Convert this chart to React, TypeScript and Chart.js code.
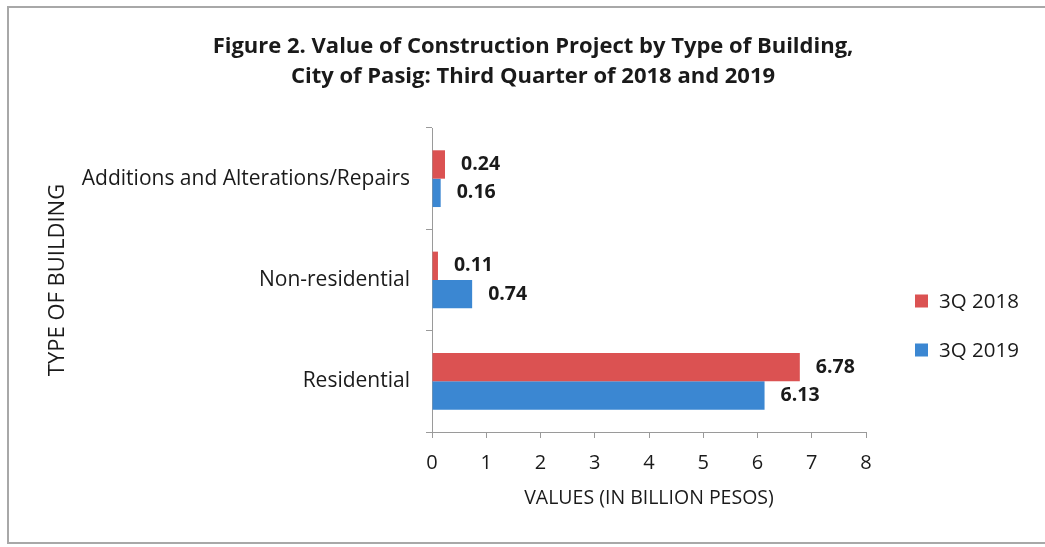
import React, { useEffect, useRef } from "react";
import { Chart, registerables } from "chart.js";

Chart.register(...registerables);

const categories = ["Additions and Alterations/Repairs", "Non-residential", "Residential"];
const series2018 = [0.24, 0.11, 6.78];
const series2019 = [0.16, 0.74, 6.13];
const seriesLabels = ["3Q 2018", "3Q 2019"];
const xTicks = [0, 1, 2, 3, 4, 5, 6, 7, 8];
const titleLines = [
  "Figure 2. Value of Construction Project by Type of Building,",
  "City of Pasig: Third Quarter of 2018 and 2019",
];
const yTitle = "TYPE OF BUILDING";
const xTitle = "VALUES (IN BILLION PESOS)";

const RED = "#db5252";
const BLUE = "#3b87d2";
const FONT = "'Open Sans', 'Liberation Sans', sans-serif";
const TEXT = "#1a1a1a";

const framePlugin = {
  id: "frame",
  beforeDraw(chart: any) {
    const { ctx } = chart;
    ctx.save();
    ctx.fillStyle = "#ffffff";
    ctx.fillRect(0, 0, chart.width, chart.height);
    ctx.strokeStyle = "#a8a8a8";
    ctx.lineWidth = 2;
    ctx.strokeRect(8, 7, chart.width, 536);
    ctx.restore();
  },
};

const titlePlugin = {
  id: "titleText",
  afterDraw(chart: any) {
    const { ctx } = chart;
    ctx.save();
    ctx.font = `bold 22px ${FONT}`;
    ctx.fillStyle = TEXT;
    ctx.textAlign = "center";
    ctx.textBaseline = "middle";
    titleLines.forEach((line, i) => {
      ctx.fillText(line, 533, 47 + i * 30);
    });
    ctx.restore();
  },
};

const valueLabelPlugin = {
  id: "valueLabels",
  afterDatasetsDraw(chart: any) {
    const { ctx } = chart;
    ctx.save();
    ctx.font = `bold 19.5px ${FONT}`;
    ctx.fillStyle = TEXT;
    ctx.textBaseline = "middle";
    ctx.textAlign = "left";
    chart.data.datasets.forEach((ds: any, di: number) => {
      const meta = chart.getDatasetMeta(di);
      meta.data.forEach((bar: any, i: number) => {
        const v = ds.data[i] as number;
        ctx.fillText(v.toFixed(2), bar.x + 16, bar.y);
      });
    });
    ctx.restore();
  },
};

const customLegendPlugin = {
  id: "customLegend",
  afterDraw(chart: any) {
    const { ctx } = chart;
    ctx.save();
    ctx.font = `20.5px ${FONT}`;
    ctx.textBaseline = "middle";
    ctx.textAlign = "left";
    chart.data.datasets.forEach((ds: any, i: number) => {
      const cy = 301 + i * 49;
      ctx.fillStyle = ds.backgroundColor;
      ctx.fillRect(915, cy - 6.5, 13, 13);
      ctx.fillStyle = TEXT;
      ctx.fillText(ds.label, 939, cy + 1);
    });
    ctx.restore();
  },
};

export default function App() {
  const ref = useRef<HTMLCanvasElement | null>(null);
  useEffect(() => {
    if (!ref.current) return;
    const chart = new Chart(ref.current, {
      type: "bar",
      data: {
        labels: categories,
        datasets: [
          { label: seriesLabels[0], data: series2018, backgroundColor: RED, categoryPercentage: 0.56, barPercentage: 1.0 },
          { label: seriesLabels[1], data: series2019, backgroundColor: BLUE, categoryPercentage: 0.56, barPercentage: 1.0 },
        ],
      },
      options: {
        indexAxis: "y",
        responsive: false,
        animation: false,
        layout: { padding: { left: 0, right: 179, top: 128, bottom: 0 } },
        plugins: {
          legend: { display: false },
          tooltip: { enabled: false },
          title: { display: false },
        },
        scales: {
          x: {
            min: 0,
            max: 8,
            afterBuildTicks: (s: any) => {
              s.ticks = xTicks.map((v) => ({ value: v }));
            },
            afterFit: (s: any) => {
              s.height = 115;
            },
            grid: { drawOnChartArea: false, drawTicks: true, tickLength: 6, color: "#9a9a9a" },
            border: { display: true, color: "#9a9a9a", width: 1 },
            ticks: { color: TEXT, font: { family: FONT, size: 20 }, padding: 13, maxRotation: 0 },
            title: {
              display: true,
              text: xTitle,
              color: TEXT,
              font: { family: FONT, size: 19.5, lineHeight: 1.2 },
              padding: { top: 0, bottom: 37 },
            },
          },
          y: {
            afterFit: (s: any) => {
              s.width = 432;
            },
            grid: { drawOnChartArea: false, drawTicks: true, tickLength: 6, color: "#9a9a9a", offset: true },
            border: { display: true, color: "#9a9a9a", width: 1 },
            ticks: { color: TEXT, font: { family: FONT, size: 21 }, padding: 16 },
            title: {
              display: true,
              text: yTitle,
              color: TEXT,
              font: { family: FONT, size: 22, lineHeight: 1.2 },
              padding: { top: 45, bottom: 0 },
            },
          },
        },
      },
      plugins: [framePlugin, valueLabelPlugin, customLegendPlugin, titlePlugin],
    });
    return () => chart.destroy();
  }, []);
  return (
    <div style={{ position: "absolute", left: 0, top: 0, width: 1045, height: 547 }}>
      <canvas ref={ref} width={1045} height={547} style={{ display: "block" }} />
    </div>
  );
}
